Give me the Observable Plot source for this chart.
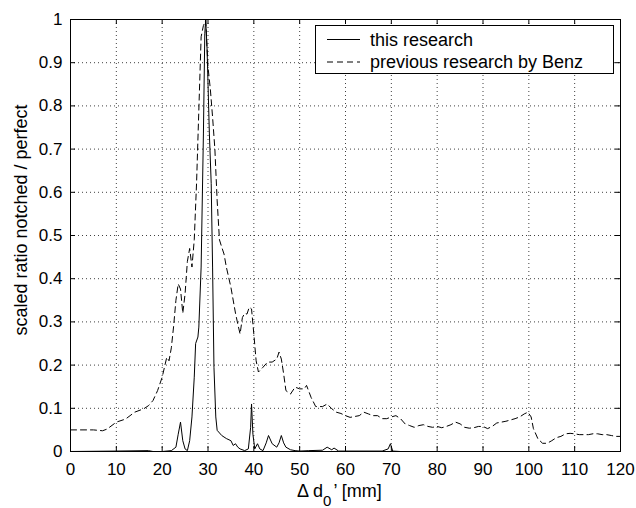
<!DOCTYPE html>
<html>
<head>
<meta charset="utf-8">
<script src="https://cdn.jsdelivr.net/npm/d3@7"></script>
<script src="https://cdn.jsdelivr.net/npm/@observablehq/plot@0.6"></script>
<style>
  html, body { margin: 0; padding: 0; background: #fff; }
  #chart { width: 636px; height: 508px; }
</style>
</head>
<body>
<div id="chart"></div>
<script>
// ---- data ----
const xTicks = [0,10,20,30,40,50,60,70,80,90,100,110,120];
const yTicks = [0,0.1,0.2,0.3,0.4,0.5,0.6,0.7,0.8,0.9,1];
const yTickLabels = ["0","0.1","0.2","0.3","0.4","0.5","0.6","0.7","0.8","0.9","1"];

const seriesNames = ["this research", "previous research by Benz"];

// previous research by Benz (dashed)
const benzX = [0,2,5,7,8,10,12,13,14,16,17,18,19,20,21,21.5,22,22.5,23,23.5,24,24.5,25,25.5,26,26.5,27,27.5,28,28.5,29,29.5,30,30.5,31,31.5,32,32.5,33,33.5,34,35,36,36.5,37,37.5,38,38.5,39,39.5,40,40.5,41,42,43,44,45,45.5,46,46.5,47,48,49,50,51,51.5,52.5,53.5,55,56,57,58,59,60,61,62,63,64,65,66,67,68,69,70,71,72,73,74,75,76,77,78,79,80,81,82,83,84,85,86,87,88,89,90,91,92,93,94,95,96,97,98,99,99.8,100.5,101,102,103,104,105,106,107,108,109,110,111,112,113,114,115,116,117,118,119,120];
const benzY = [0.05,0.05,0.05,0.048,0.052,0.068,0.075,0.083,0.091,0.099,0.106,0.118,0.141,0.172,0.218,0.21,0.24,0.29,0.35,0.388,0.376,0.32,0.365,0.44,0.47,0.427,0.49,0.62,0.79,0.96,0.986,0.998,0.89,0.84,0.774,0.70,0.58,0.49,0.473,0.457,0.427,0.38,0.32,0.295,0.272,0.31,0.32,0.318,0.334,0.33,0.272,0.21,0.184,0.195,0.207,0.207,0.214,0.23,0.214,0.18,0.141,0.133,0.149,0.145,0.145,0.153,0.125,0.104,0.104,0.11,0.099,0.091,0.088,0.083,0.079,0.081,0.083,0.091,0.087,0.083,0.083,0.076,0.076,0.08,0.083,0.076,0.064,0.06,0.056,0.06,0.062,0.058,0.056,0.058,0.055,0.058,0.062,0.068,0.064,0.056,0.054,0.055,0.058,0.058,0.053,0.058,0.066,0.068,0.07,0.073,0.076,0.08,0.087,0.091,0.08,0.053,0.029,0.019,0.019,0.025,0.032,0.035,0.041,0.042,0.041,0.039,0.039,0.039,0.041,0.041,0.039,0.039,0.037,0.035,0.035];

// this research (solid)
const thisX = [0,10,17,18,20,22,23,23.5,24,24.5,25,25.5,26,26.5,27,27.3,27.8,28,28.5,29,29.3,29.5,29.8,30.3,30.7,31,31.3,31.7,32,33,34,35,35.5,36,36.5,37,38,38.8,39.3,39.5,39.8,40.2,40.8,41.3,42,42.7,43.2,44,45,45.5,46,46.5,47,48,49,50,52,55,56,57,57.5,58.5,60,68,69.3,69.8,70.3,72,120];
const thisY = [0,0.001,0.002,0,0,0.002,0.01,0.04,0.068,0.025,0.006,0.002,0.025,0.08,0.172,0.25,0.265,0.288,0.427,0.735,0.967,1.0,0.93,0.735,0.62,0.427,0.195,0.08,0.049,0.037,0.03,0.025,0.014,0.018,0.01,0.006,0.002,0.006,0.056,0.11,0.04,0.006,0.018,0.006,0.002,0.02,0.037,0.018,0.01,0.02,0.037,0.02,0.01,0.004,0.002,0.001,0.002,0.003,0.01,0.004,0.008,0.001,0.001,0.001,0.006,0.018,0.001,0,0];

const benz = benzX.map((x, i) => ({x, y: benzY[i]}));
const mine = thisX.map((x, i) => ({x, y: thisY[i]}));

const FONT = "'Liberation Sans', Arial, Helvetica, sans-serif";
const W = 636, H = 508;
const mL = 70, mR = 16, mT = 19, mB = 57;
const plotH = H - mT - mB;
const plotW = W - mL - mR;

const chart = Plot.plot({
  width: W,
  height: H,
  marginLeft: mL,
  marginRight: mR,
  marginTop: mT,
  marginBottom: mB,
  style: {fontFamily: FONT, fontSize: "17px", color: "#000", background: "#fff"},
  x: {domain: [0, 120]},
  y: {domain: [0, 1]},
  marks: [
    Plot.gridX(xTicks, {stroke: "#000", strokeOpacity: 0.75, strokeDasharray: "1,3"}),
    Plot.gridY(yTicks, {stroke: "#000", strokeOpacity: 0.75, strokeDasharray: "1,3"}),
    // inward tick marks on all four sides
    Plot.tickX(xTicks, {x: d => d, insetTop: plotH - 5, stroke: "#000"}),
    Plot.tickX(xTicks, {x: d => d, insetBottom: plotH - 5, stroke: "#000"}),
    Plot.tickY(yTicks, {y: d => d, insetRight: plotW - 5, stroke: "#000"}),
    Plot.tickY(yTicks, {y: d => d, insetLeft: plotW - 5, stroke: "#000"}),
    Plot.axisX(xTicks, {tickSize: 0, tickPadding: 11, label: null, fontSize: 17}),
    Plot.axisY(yTicks, {tickSize: 0, tickPadding: 8, label: null, fontSize: 17,
      tickFormat: (d) => yTickLabels[yTicks.indexOf(d)]}),
    Plot.line(benz, {x: "x", y: "y", stroke: "#000", strokeWidth: 1, strokeDasharray: "6,4"}),
    Plot.line(mine, {x: "x", y: "y", stroke: "#000", strokeWidth: 1}),
    Plot.frame({stroke: "#000", strokeWidth: 1})
  ]
});

document.getElementById("chart").appendChild(chart);

// axis titles and legend
const svg = d3.select(chart);

const xl = svg.append("text")
  .attr("x", 297)
  .attr("y", 497)
  .attr("text-anchor", "start")
  .attr("font-family", FONT)
  .attr("font-size", 18)
  .attr("fill", "#000");
xl.append("tspan").text("Δ d");
xl.append("tspan").attr("dy", 9).attr("font-size", 15).text("0");
xl.append("tspan").attr("dy", -9).attr("dx", 2).text("’ [mm]");

svg.append("text")
  .attr("transform", `translate(27, 220) rotate(-90)`)
  .attr("text-anchor", "middle")
  .attr("font-family", FONT)
  .attr("font-size", 18)
  .attr("fill", "#000")
  .text("scaled ratio notched / perfect");

const lg = svg.append("g");
lg.append("rect")
  .attr("x", 315.5).attr("y", 25.5)
  .attr("width", 298).attr("height", 48)
  .attr("fill", "#fff").attr("stroke", "#000");
const dashes = [null, "6,4"];
seriesNames.forEach((name, i) => {
  const cy = 39.5 + i * 22.5;
  lg.append("line")
    .attr("x1", 327).attr("x2", 360)
    .attr("y1", cy).attr("y2", cy)
    .attr("stroke", "#000")
    .attr("stroke-dasharray", dashes[i]);
  lg.append("text")
    .attr("x", 370).attr("y", cy + 6)
    .attr("text-anchor", "start")
    .attr("font-family", FONT)
    .attr("font-size", 18)
    .attr("fill", "#000")
    .text(name);
});
</script>
</body>
</html>
